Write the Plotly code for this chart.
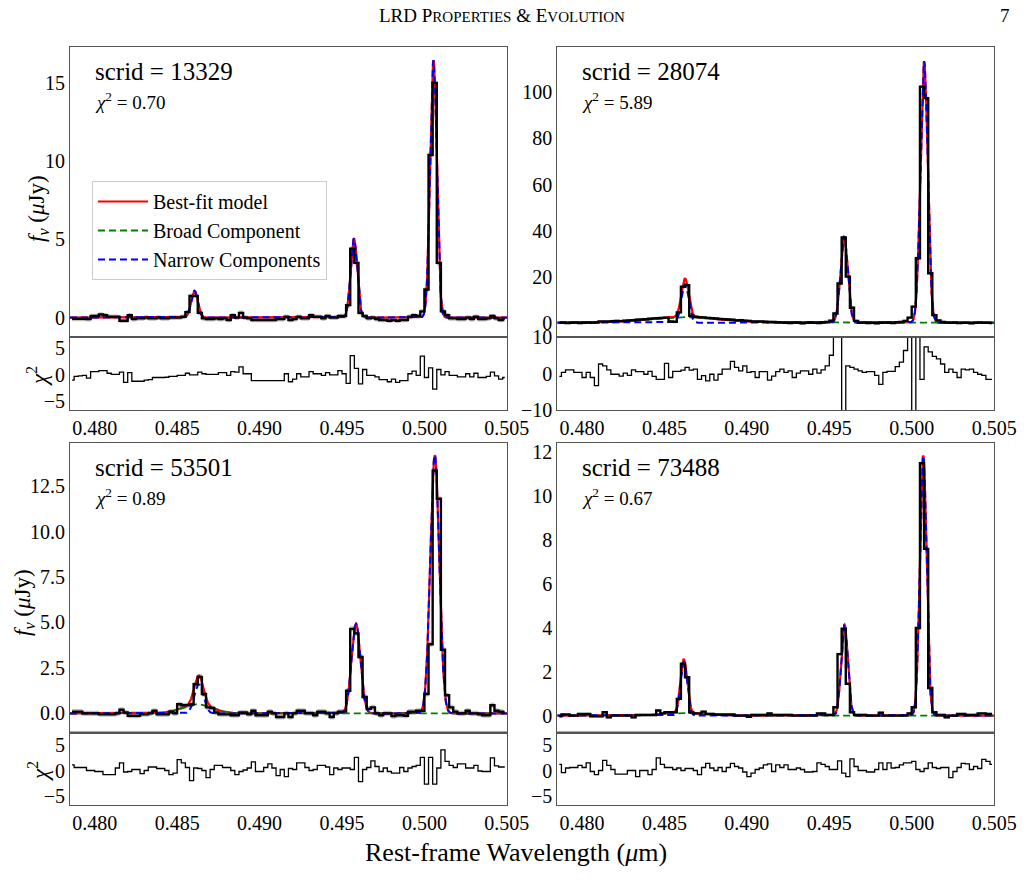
import numpy as np
import plotly.graph_objects as go

# ---------------- data ----------------
WAVE_FIRST = 0.478625      # centre of first spectral bin (micron)
WAVE_STEP = 0.00025        # bin width (micron)
X_RANGE = [0.4785, 0.50501]
X_TICKS = [0.480, 0.485, 0.490, 0.495, 0.500, 0.505]
X_TICK_TEXT = ["0.480", "0.485", "0.490", "0.495", "0.500", "0.505"]

SCRIDS = ["13329", "28074", "53501", "73488"]
CHI2 = ["0.70", "5.89", "0.89", "0.67"]

FLUX_13329 = [
    -0.08, -0.08, -0.08, -0.08, -0.1, 0.1, 0.1, 0.2, 0.15, 0.05,
    0.05, 0.05, -0.2, -0.2, 0.15, -0.1, -0.05, -0.05, 0.0, -0.05,
    -0.05, 0.0, -0.05, -0.05, 0.0, 0.0, 0.0, 0.05, 0.35, 1.39,
    1.39, 0.3, -0.05, -0.1, -0.1, -0.05, -0.1, -0.05, -0.15, 0.15,
    0.0, 0.3, 0.0, -0.05, -0.15, -0.15, -0.15, -0.15, -0.15, -0.15,
    -0.1, -0.1, 0.05, -0.15, -0.1, 0.05, -0.05, -0.05, 0.15, 0.05,
    0.05, -0.05, 0.1, 0.0, 0.0, 0.1, 0.1, 0.8, 4.4, 3.5,
    0.3, 0.1, -0.05, 0.0, -0.1, -0.15, -0.15, -0.2, -0.15, -0.2,
    -0.15, -0.15, 0.05, 0.15, 0.1, 0.4, 1.8, 10.4, 15.0, 3.5,
    0.4, 0.15, -0.05, -0.05, -0.1, -0.1, 0.0, -0.1, 0.05, -0.1,
    -0.1, -0.05, 0.1, -0.05, -0.15, -0.1]
RESID_13329 = [
    -1.0, -0.3, -0.2, -0.1, -0.6, 0.6, 0.6, 0.8, 0.8, 0.3,
    0.1, 0.1, 0.5, -1.4, 0.4, -1.2, -1.2, -1.2, -1.0, -0.9,
    -0.5, -0.5, -0.5, -0.45, -0.3, -0.3, -0.1, -0.1, 0.3, 0.0,
    0.0, 0.5, 0.2, 0.1, 0.1, 0.1, 0.4, 0.4, -0.1, 0.6,
    0.5, 1.5, 0.2, 0.2, -1.1, -1.1, -1.1, -1.1, -1.1, -1.1,
    -1.1, -1.1, 0.2, -1.3, -0.8, 0.2, -0.4, -0.4, 0.6, 0.2,
    0.2, -0.1, 0.4, 0.0, 0.0, 0.8, 0.2, -1.6, 3.6, 1.2,
    -1.7, 1.0, -0.1, -0.1, -0.4, -0.9, -0.9, -1.3, -0.8, -1.4,
    -1.1, -1.1, 0.2, 0.7, -0.1, 3.5, -0.5, 1.3, -2.7, 1.0,
    0.0, 0.6, -0.1, -0.1, -0.4, -0.4, 0.2, -0.4, 0.3, -0.5,
    -0.5, -0.3, 0.5, -0.2, -0.8, -0.5]
ERR_13329 = 0.15
LINE_CENTERS_13329 = [0.48605, 0.495725, 0.50055]
NARROW_AMPS_13329 = [1.72, 5.05, 16.45]
NARROW_SIGMA_13329 = 0.0002
BROAD_13329 = None

FLUX_28074 = [
    0.0, 0.1, -0.1, 0.0, 0.1, -0.1, 0.0, 0.1, 0.0, 0.1,
    0.6, 0.6, 0.5, 0.7, 0.8, 0.7, 0.9, 1.0, 1.1, 1.3,
    1.4, 1.5, 1.7, 1.9, 2.0, 2.1, 2.2, 0.5, 0.4, 4.5,
    15.6, 16.3, 3.0, 2.6, 2.4, 2.3, 2.1, 2.0, 1.8, 1.6,
    1.5, 1.4, 1.3, 1.0, 1.1, 0.9, 0.8, 0.6, 0.5, 0.6,
    0.4, 0.3, 0.3, 0.2, 0.1, 0.0, -0.1, 0.1, 0.0, -0.2,
    0.0, 0.1, 0.0, -0.1, 0.1, 0.3, 0.9, 4.0, 17.0, 37.0,
    20.0, 6.5, 0.8, 0.0, 0.1, -0.1, 0.0, -0.2, 0.0, 0.1,
    0.0, -0.1, 0.2, 0.3, 0.8, 2.2, 7.0, 28.0, 102.5, 97.5,
    21.5, 3.3, 1.0, 0.3, 0.1, 0.0, 0.1, -0.1, 0.0, 0.0,
    -0.2, 0.0, 0.1, 0.0, 0.0, -0.1]
RESID_28074 = [
    -0.8, 0.3, 1.0, 1.0, 0.3, 0.3, -1.1, 0.3, -1.1, -3.3,
    2.6, 2.1, 1.0, -0.2, -0.2, -0.7, 0.1, -0.5, 1.0, 0.5,
    0.5, -0.2, 0.6, -0.8, -1.6, -1.6, 2.8, -1.1, 0.6, 0.6,
    0.9, 1.7, 0.9, 1.2, -1.6, -0.6, -2.0, -0.2, -1.8, -0.2,
    1.2, 1.2, 3.3, 1.7, 0.7, 2.1, 0.3, 0.5, -1.1, 0.5,
    0.5, -1.8, -0.7, 0.5, 1.2, 0.3, 0.7, -1.1, 0.1, 0.7,
    0.7, -0.2, 1.2, 0.1, 1.0, 2.1, 5.0, 15.0, 14.0, -18.0,
    2.1, 1.7, 1.2, 0.7, 0.3, 0.5, 0.5, -0.5, -3.0, 0.3,
    0.6, 0.6, 1.9, 3.1, 6.3, 16.0, -25.0, 14.0, -1.6, 7.3,
    5.9, 4.7, 4.0, 2.6, 0.3, 1.2, 0.3, -1.1, 1.2, 1.0,
    1.2, 0.3, -0.2, -0.5, -1.6, -1.6]
ERR_28074 = 0.6
LINE_CENTERS_28074 = [0.48625, 0.4959, 0.50075]
NARROW_AMPS_28074 = [16.8, 37.3, 113.5]
NARROW_SIGMA_28074 = 0.00022
BROAD_28074 = (0.4862, 2.4, 0.0022)

FLUX_53501 = [
    0.1, 0.1, 0.1, 0.0, 0.0, 0.0, 0.0, -0.05, -0.05, -0.05,
    -0.05, 0.0, 0.2, 0.05, -0.13, -0.13, -0.13, -0.05, -0.05, 0.0,
    0.15, -0.05, -0.05, -0.05, 0.1, 0.0, 0.5, 0.45, 0.45, 0.5,
    1.6, 2.0, 1.07, 0.33, 0.3, 0.05, -0.05, -0.05, -0.05, -0.1,
    -0.1, 0.05, 0.05, -0.05, 0.15, -0.1, -0.1, -0.1, 0.1, 0.0,
    -0.2, -0.2, 0.0, -0.2, 0.0, 0.15, 0.15, 0.0, 0.0, -0.1,
    0.1, 0.1, 0.0, -0.2, 0.0, 0.1, 0.1, 1.25, 4.65, 4.4,
    3.1, 0.9, 0.25, 0.33, 0.0, -0.1, 0.0, 0.0, -0.15, -0.1,
    -0.1, -0.13, 0.1, 0.1, 0.15, 0.15, 1.07, 3.8, 13.35, 11.8,
    3.5, 1.0, 0.33, 0.1, 0.0, 0.0, 0.15, 0.0, 0.0, -0.05,
    -0.1, -0.1, 0.45, 0.15, 0.1, 0.05]
RESID_53501 = [
    1.1, 0.6, 0.6, 0.6, 0.0, 0.0, -0.2, -0.2, -0.8, -0.8,
    -0.8, 0.5, 1.5, -0.3, -0.2, 0.2, 0.2, -0.6, 0.0, 0.7,
    0.7, 0.4, 0.4, 0.0, -0.8, -0.5, 2.15, 1.5, 0.6, -2.0,
    0.5, 0.4, 0.0, -1.4, 0.2, 1.0, 1.0, 0.6, 0.6, 0.0,
    -0.8, -0.2, 0.1, 0.5, 1.7, -0.2, -0.2, 0.6, 1.3, 0.5,
    -1.0, 0.2, -1.2, 0.4, 0.2, 1.5, 1.5, 0.6, 0.0, 0.2,
    1.0, 1.0, 0.7, -0.8, 0.5, 0.2, 0.5, 0.5, 0.2, 2.6,
    -2.2, 0.2, 0.6, 1.9, 0.8, -0.2, 0.5, -0.2, -0.5, -0.5,
    0.6, -0.2, 0.5, 0.8, 1.0, 2.6, -2.7, 2.6, -2.7, 0.5,
    4.1, 1.8, 1.0, 0.6, 1.3, 1.3, 0.5, 0.5, 1.0, -0.1,
    -0.2, -0.2, 2.5, 0.9, 0.7, 0.7]
ERR_53501 = 0.14
LINE_CENTERS_53501 = [0.48632, 0.49585, 0.50063]
NARROW_AMPS_53501 = [1.6, 4.93, 14.2]
NARROW_SIGMA_53501 = 0.00027
BROAD_53501 = (0.4862, 0.5, 0.0009)

FLUX_73488 = [
    -0.03, 0.05, 0.05, 0.0, 0.0, 0.07, 0.07, 0.07, -0.03, -0.03,
    -0.03, 0.15, -0.08, 0.0, 0.0, 0.0, 0.0, 0.0, -0.08, 0.03,
    0.03, 0.03, 0.03, 0.03, 0.23, 0.1, 0.15, 0.15, 0.15, 0.76,
    2.36, 1.75, 0.15, 0.1, 0.1, 0.18, 0.08, 0.08, 0.05, 0.05,
    0.05, 0.05, 0.05, 0.0, 0.0, 0.0, -0.05, 0.03, 0.03, 0.03,
    0.03, 0.1, 0.03, 0.03, 0.03, 0.03, 0.03, 0.0, 0.0, 0.0,
    0.0, 0.0, 0.0, 0.1, 0.1, 0.03, 0.03, 0.38, 2.8, 3.96,
    1.45, 0.15, 0.03, 0.03, 0.03, 0.0, 0.0, 0.0, 0.13, 0.0,
    0.0, 0.0, 0.0, 0.0, 0.0, 0.1, 0.38, 3.99, 11.5, 7.6,
    1.26, 0.15, 0.03, 0.03, -0.08, 0.0, 0.0, 0.07, 0.07, 0.03,
    0.03, 0.03, 0.1, 0.1, 0.07, 0.07]
RESID_73488 = [
    1.2, -0.4, 0.5, 0.6, 0.6, 1.0, 0.6, 1.5, -0.2, -0.8,
    0.0, 2.0, 1.0, 0.2, -0.7, -0.7, -0.7, 0.0, 0.0, -1.2,
    0.0, 0.0, -0.8, 0.2, 2.5, 1.2, 0.6, 0.6, 0.2, 0.5,
    0.0, 0.4, 0.4, 0.0, -0.8, 0.6, 1.4, 0.5, 0.0, 0.6,
    -0.2, 0.6, 1.4, 0.8, 0.5, -0.3, -1.2, -0.5, 0.2, 0.5,
    1.1, 1.3, -0.2, 1.1, 0.6, 1.1, 0.2, 0.2, 0.5, 0.2,
    -0.3, -0.3, -0.2, 1.5, 1.2, 0.8, 0.2, 0.2, 1.9, -0.5,
    -1.2, 2.3, 0.8, 0.0, 0.0, -0.3, -0.3, 0.2, 1.5, 0.2,
    1.5, 0.5, 0.6, 1.1, 1.5, 1.5, 1.8, 0.2, -0.2, 0.4,
    1.5, 0.6, 0.4, 0.6, 0.6, -1.4, -0.2, 0.6, 1.4, 1.3,
    0.2, 0.8, 0.4, 2.2, 1.8, 1.2]
ERR_73488 = 0.06
LINE_CENTERS_73488 = [0.486175, 0.495925, 0.5007]
NARROW_AMPS_73488 = [2.45, 4.15, 11.85]
NARROW_SIGMA_73488 = 0.0002
BROAD_73488 = (0.4861, 0.12, 0.0012)

PANELS = [
    (FLUX_13329, RESID_13329, ERR_13329, LINE_CENTERS_13329, NARROW_AMPS_13329, NARROW_SIGMA_13329, BROAD_13329),
    (FLUX_28074, RESID_28074, ERR_28074, LINE_CENTERS_28074, NARROW_AMPS_28074, NARROW_SIGMA_28074, BROAD_28074),
    (FLUX_53501, RESID_53501, ERR_53501, LINE_CENTERS_53501, NARROW_AMPS_53501, NARROW_SIGMA_53501, BROAD_53501),
    (FLUX_73488, RESID_73488, ERR_73488, LINE_CENTERS_73488, NARROW_AMPS_73488, NARROW_SIGMA_73488, BROAD_73488),
]

MAIN_YRANGE = [[-1.24, 17.3], [-6.2, 119.7], [-1.06, 14.85], [-0.78, 12.41]]
MAIN_YTICKS = [[0, 5, 10, 15], [0, 20, 40, 60, 80, 100],
               [0, 2.5, 5, 7.5, 10, 12.5], [0, 2, 4, 6, 8, 10, 12]]
MAIN_YTICKTEXT = [["0", "5", "10", "15"], ["0", "20", "40", "60", "80", "100"],
                  ["0.0", "2.5", "5.0", "7.5", "10.0", "12.5"],
                  ["0", "2", "4", "6", "8", "10", "12"]]
RES_YRANGE = [[-6.6, 7.1], [-10, 10], [-6.9, 7.5], [-6.9, 7.5]]
RES_YTICKS = [[-5, 0, 5], [-10, 0, 10], [-5, 0, 5], [-5, 0, 5]]

# ---------------- layout helpers ----------------
W, H = 1029, 890
SERIF = "Liberation Serif, Times New Roman, serif"
FRAME = "#555555"
COLS = [(70, 507), (557.3, 994.3)]
ROWS = [(47, 337, 410), (443.3, 732.7, 805.3)]   # main top, separator, residual bottom


def px_x(p):
    return p / W


def px_y(p):
    return 1 - p / H


def gauss(x, c, a, s):
    return a * np.exp(-0.5 * ((x - c) / s) ** 2)


fig = go.Figure()
layout = {}
xm = np.linspace(X_RANGE[0], X_RANGE[1], 1600)

for p, (flux, resid, err, centers, amps, sig, broad) in enumerate(PANELS):
    row, col = divmod(p, 2)
    nm, nr = 2 * p + 1, 2 * p + 2
    flux = np.array(flux)
    wave = WAVE_FIRST + WAVE_STEP * np.arange(len(flux))
    xa_m, ya_m = f"x{nm}", f"y{nm}"
    xa_r, ya_r = f"x{nr}", f"y{nr}"

    narrow = np.zeros_like(xm)
    for c, a in zip(centers, amps):
        narrow += gauss(xm, c, a, sig)
    broad_curve = gauss(xm, broad[0], broad[1], broad[2]) if broad else np.zeros_like(xm)
    total = narrow + broad_curve

    # error band
    fig.add_trace(go.Scatter(x=wave, y=flux - err, mode="lines", line=dict(width=0, shape="hvh"),
                             xaxis=xa_m, yaxis=ya_m, showlegend=False, hoverinfo="skip"))
    fig.add_trace(go.Scatter(x=wave, y=flux + err, mode="lines", line=dict(width=0, shape="hvh"),
                             fill="tonexty", fillcolor="rgba(150,150,150,0.6)",
                             xaxis=xa_m, yaxis=ya_m, showlegend=False, hoverinfo="skip"))
    # model lines
    fig.add_trace(go.Scatter(x=xm, y=total, mode="lines", line=dict(color="red", width=2.2),
                             xaxis=xa_m, yaxis=ya_m, name="Best-fit model",
                             showlegend=(p == 0), legendrank=1, legendgroup="a"))
    if broad:
        fig.add_trace(go.Scatter(x=xm, y=broad_curve, mode="lines",
                                 line=dict(color="green", width=1.8, dash="7px,4px"),
                                 xaxis=xa_m, yaxis=ya_m, showlegend=False))
    else:
        fig.add_trace(go.Scatter(x=[None], y=[None], mode="lines",
                                 line=dict(color="green", width=1.8, dash="7px,4px"),
                                 xaxis=xa_m, yaxis=ya_m, name="Broad Component",
                                 showlegend=(p == 0), legendrank=2, legendgroup="b"))
    fig.add_trace(go.Scatter(x=xm, y=narrow, mode="lines",
                             line=dict(color="blue", width=2.0, dash="7px,4px"),
                             xaxis=xa_m, yaxis=ya_m, name="Narrow Components",
                             showlegend=(p == 0), legendrank=3, legendgroup="c"))
    # observed data
    fig.add_trace(go.Scatter(x=wave, y=flux, mode="lines", line=dict(color="black", width=2.4, shape="hvh"),
                             xaxis=xa_m, yaxis=ya_m, showlegend=False))
    # residuals
    fig.add_trace(go.Scatter(x=wave, y=resid, mode="lines", line=dict(color="black", width=1.3, shape="hvh"),
                             xaxis=xa_r, yaxis=ya_r, showlegend=False))

    xd = [px_x(COLS[col][0]), px_x(COLS[col][1])]
    top, sep, bot = ROWS[row]
    common = dict(showline=True, mirror=True, linecolor=FRAME, linewidth=1, ticks="",
                  showgrid=False, zeroline=False, automargin=False,
                  tickfont=dict(family=SERIF, size=20, color="black"))
    layout[f"xaxis{nm}"] = dict(domain=xd, range=X_RANGE, anchor=ya_m, showticklabels=False,
                                tickvals=X_TICKS, **common)
    layout[f"xaxis{nr}"] = dict(domain=xd, range=X_RANGE, anchor=ya_r, tickvals=X_TICKS,
                                ticktext=X_TICK_TEXT, **common)
    layout[f"yaxis{nm}"] = dict(domain=[px_y(sep), px_y(top)], range=MAIN_YRANGE[p], anchor=xa_m,
                                tickvals=MAIN_YTICKS[p], ticktext=MAIN_YTICKTEXT[p], **common)
    layout[f"yaxis{nr}"] = dict(domain=[px_y(bot), px_y(sep)], range=RES_YRANGE[p], anchor=xa_r,
                                tickvals=RES_YTICKS[p], **common)

shapes = []
for row in range(2):
    for col in range(2):
        sep = ROWS[row][1]
        shapes.append(dict(type="line", xref="paper", yref="paper",
                           x0=px_x(COLS[col][0]), x1=px_x(COLS[col][1]),
                           y0=px_y(sep), y1=px_y(sep), line=dict(color=FRAME, width=2.2)))

annotations = []
ANN_POS = [(93, 72, 101), (580, 72, 101), (93, 467, 497), (580, 467, 497)]
for p in range(4):
    x0, ys, yc = ANN_POS[p]
    annotations.append(dict(x=px_x(x0), y=px_y(ys), xref="paper", yref="paper", showarrow=False,
                            xanchor="left", yanchor="middle", text=f"scrid = {SCRIDS[p]}",
                            font=dict(family=SERIF, size=25, color="black")))
    annotations.append(dict(x=px_x(x0), y=px_y(yc), xref="paper", yref="paper", showarrow=False,
                            xanchor="left", yanchor="middle",
                            text=f"<i>χ</i><sup>2</sup> = {CHI2[p]}",
                            font=dict(family=SERIF, size=19, color="black")))

for xc, yc in ((38, 209), (24, 603)):
    annotations.append(dict(x=px_x(xc), y=px_y(yc), xref="paper", yref="paper", showarrow=False,
                            textangle=-90, xanchor="center", yanchor="middle",
                            text="<i>f</i><sub><i>ν</i></sub> (<i>μ</i>Jy)",
                            font=dict(family=SERIF, size=23, color="black")))
for yc in (376, 771):
    annotations.append(dict(x=px_x(38), y=px_y(yc), xref="paper", yref="paper", showarrow=False,
                            textangle=-90, xanchor="center", yanchor="middle",
                            text="<i>χ</i><sup>2</sup>",
                            font=dict(family=SERIF, size=23, color="black")))

annotations.append(dict(x=px_x(516), y=px_y(852), xref="paper", yref="paper", showarrow=False,
                        xanchor="center", yanchor="middle",
                        text="Rest-frame Wavelength (<i>μ</i>m)",
                        font=dict(family=SERIF, size=26, color="black")))
annotations.append(dict(x=px_x(502), y=px_y(15), xref="paper", yref="paper", showarrow=False,
                        xanchor="center", yanchor="middle",
                        text="LRD P<span style='font-size:15px'>ROPERTIES</span> &amp; "
                             "E<span style='font-size:15px'>VOLUTION</span>",
                        font=dict(family=SERIF, size=19, color="black")))
annotations.append(dict(x=px_x(1005), y=px_y(15), xref="paper", yref="paper", showarrow=False,
                        xanchor="center", yanchor="middle", text="7",
                        font=dict(family=SERIF, size=19, color="black")))

fig.update_layout(
    template="none",
    width=W, height=H, autosize=False,
    margin=dict(l=0, r=0, t=0, b=0, pad=0),
    paper_bgcolor="white", plot_bgcolor="white",
    font=dict(family=SERIF, color="black"),
    shapes=shapes, annotations=annotations,
    legend=dict(x=px_x(92), y=px_y(181), xanchor="left", yanchor="top",
                bgcolor="white", bordercolor="#cccccc", borderwidth=1,
                font=dict(family=SERIF, size=20, color="black"),
                itemwidth=50, tracegroupgap=0),
    **layout,
)

fig.write_html("out.html")
